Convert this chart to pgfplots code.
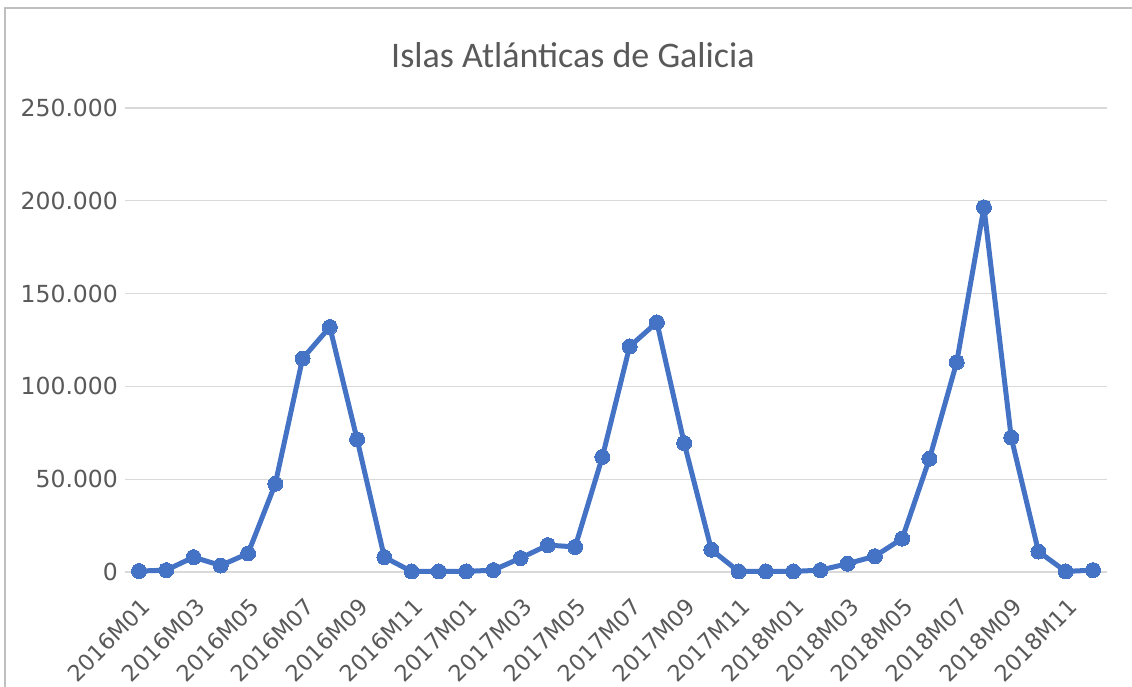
\documentclass[border=0pt]{standalone}
\usepackage{pgfplots}
\pgfplotsset{compat=1.18}
\usepackage{fontspec}
\setmainfont{Carlito}
\newfontfamily\tickfont{DejaVu Sans}
\definecolor{ser}{HTML}{4472C4}
\definecolor{txt}{HTML}{595959}
\definecolor{grd}{HTML}{D9D9D9}
\begin{document}
\begin{tikzpicture}[x=1pt,y=1pt]
\useasboundingbox (0,0) rectangle (1132,687);
\draw[color=black!25, line width=1.2pt] (5,-2) -- (5,679) -- (1140,679);
\node[txt, font=\fontsize{36}{42}\selectfont] at (573,632) {Islas Atlánticas de Galicia};
\begin{axis}[
  at={(125.4pt,115pt)}, anchor=south west,
  scale only axis, width=981.2pt, height=464pt,
  xmin=0.5, xmax=36.5, ymin=0, ymax=250000,
  scaled y ticks=false,
  axis line style={draw=none},
  tick style={draw=none},
  ymajorgrids, grid style={grd, line width=1.3pt},
  ytick={0,50000,100000,150000,200000,250000},
  yticklabels={0,50.000,100.000,150.000,200.000,250.000},
  xtick={1,3,...,35},
  xticklabels={2016M01,2016M03,2016M05,2016M07,2016M09,2016M11,2017M01,2017M03,2017M05,2017M07,2017M09,2017M11,2018M01,2018M03,2018M05,2018M07,2018M09,2018M11},
  x tick label style={xshift=1pt, yshift=-20pt, rotate=45, anchor=north east, font=\tickfont\fontsize{22.5}{26}\selectfont, text=txt},
  y tick label style={font=\tickfont\fontsize{23.5}{26}\selectfont, text=txt, xshift=-4pt},
  clip=false,
]
\addplot[ser, line width=5pt, line join=round, mark=*, mark size=7.5pt, mark options={fill=ser, draw=ser, line width=0pt}] coordinates {
(1,500) (2,1000) (3,8000) (4,3500) (5,10000) (6,47500) (7,115000) (8,132000) (9,71500) (10,8000) (11,300) (12,300)
(13,300) (14,1000) (15,7500) (16,14500) (17,13500) (18,62000) (19,121500) (20,134500) (21,69500) (22,12000) (23,300) (24,300)
(25,300) (26,1000) (27,4500) (28,8500) (29,18000) (30,61000) (31,113000) (32,196500) (33,72500) (34,11000) (35,300) (36,1000)
};
\end{axis}
\end{tikzpicture}
\end{document}
